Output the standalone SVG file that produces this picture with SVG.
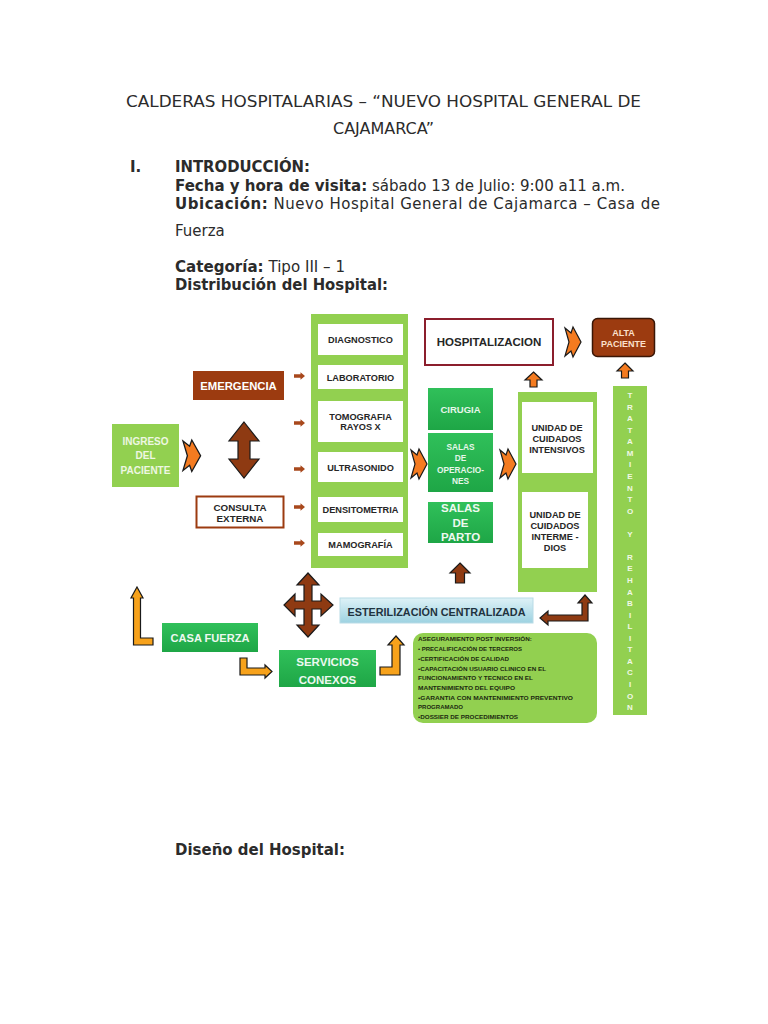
<svg xmlns="http://www.w3.org/2000/svg" width="768" height="1024" viewBox="0 0 768 1024">
<defs>
<linearGradient id="gGreen" x1="0" y1="0" x2="0" y2="1"><stop offset="0" stop-color="#30c05a"/><stop offset="1" stop-color="#1ea646"/></linearGradient>
<linearGradient id="gBlue" x1="0" y1="0" x2="0" y2="1"><stop offset="0" stop-color="#def2f7"/><stop offset="1" stop-color="#9dd2e1"/></linearGradient>
<path id="chev" d="M0,1 L6,6 L8,0 L16,15 L8,30 L6,24 L0,29 L4,15 Z"/>
<path id="sarr" d="M0,-1.7 H6.5 V-3.8 L11,0 L6.5,3.8 V1.7 H0 Z"/>
</defs>
<style>
.doc{font-family:"DejaVu Sans",sans-serif;fill:#2b2b2b;font-size:15px}
.b{font-weight:bold}
.lbl{font-family:"Liberation Sans",Arial,sans-serif;font-weight:bold;text-anchor:middle}
.lg{fill:#92d050}
.mg{fill:url(#gGreen)}
.wbox{fill:#ffffff}
.dk{fill:#262626;font-size:9.2px}
.star{fill:#f47b20;stroke:#1a1a1a;stroke-width:1.2}
.ora{fill:#f7a21b;stroke:#1a1a1a;stroke-width:1.2}
.bra{fill:#8e3a12;stroke:#1a1a1a;stroke-width:1.2}
.sm{fill:#a8481c}
.note{font-family:"Liberation Sans",Arial,sans-serif;font-weight:bold;font-size:5.5px;fill:#1c2a10}
.vt{font-family:"Liberation Sans",Arial,sans-serif;font-weight:bold;font-size:8px;fill:#f0f8e6;text-anchor:middle}
</style>
<rect width="768" height="1024" fill="#ffffff"/>

<g id="header">
<text class="doc" x="126" y="107" style="font-size:16px" textLength="515" lengthAdjust="spacingAndGlyphs">CALDERAS HOSPITALARIAS – “NUEVO HOSPITAL GENERAL DE</text>
<text class="doc" x="383.5" y="134" style="font-size:16px" text-anchor="middle">CAJAMARCA”</text>
<text class="doc b" x="130" y="172">I.</text>
<text class="doc b" x="175" y="172" textLength="135" lengthAdjust="spacingAndGlyphs">INTRODUCCIÓN:</text>
<text class="doc" x="175" y="191" textLength="450" lengthAdjust="spacingAndGlyphs"><tspan class="b">Fecha y hora de visita:</tspan> sábado 13 de Julio: 9:00 a11 a.m.</text>
<text class="doc" x="175" y="209" textLength="485" lengthAdjust="spacing"><tspan class="b">Ubicación:</tspan> Nuevo Hospital General de Cajamarca – Casa de</text>
<text class="doc" x="175" y="236">Fuerza</text>
<text class="doc" x="175" y="272" textLength="170" lengthAdjust="spacingAndGlyphs"><tspan class="b">Categoría:</tspan> Tipo III – 1</text>
<text class="doc b" x="175" y="290" textLength="213" lengthAdjust="spacingAndGlyphs">Distribución del Hospital:</text>
<text class="doc b" x="175" y="855" textLength="170" lengthAdjust="spacingAndGlyphs">Diseño del Hospital:</text>
</g>

<g id="ingreso">
<rect class="lg" x="112" y="424" width="67" height="63"/>
<text class="lbl" x="145.5" y="444.5" font-size="10" fill="#eef7e2">INGRESO</text>
<text class="lbl" x="145.5" y="458.5" font-size="10" fill="#eef7e2">DEL</text>
<text class="lbl" x="145.5" y="473.5" font-size="10" fill="#eef7e2">PACIENTE</text>
</g>
<g id="emergencia">
<rect x="193" y="371" width="91" height="29" fill="#9c3b10"/>
<text class="lbl" x="238.5" y="390" font-size="11.3" fill="#ffffff">EMERGENCIA</text>
</g>
<g id="consulta">
<rect x="196.5" y="496.5" width="87" height="31" fill="#ffffff" stroke="#9c3b10" stroke-width="2"/>
<text class="lbl dk" x="240" y="510.5" style="font-size:9.8px">CONSULTA</text>
<text class="lbl dk" x="240" y="522" style="font-size:9.8px">EXTERNA</text>
</g>

<g id="servicios-apoyo">
<rect class="lg" x="311" y="314" width="97" height="254"/>
<rect class="wbox" x="318" y="324" width="85" height="31"/>
<text class="lbl dk" x="360.5" y="343">DIAGNOSTICO</text>
<rect class="wbox" x="318" y="365" width="85" height="24"/>
<text class="lbl dk" x="360.5" y="380.5">LABORATORIO</text>
<rect class="wbox" x="318" y="401" width="85" height="41"/>
<text class="lbl dk" x="360.5" y="420">TOMOGRAFIA</text>
<text class="lbl dk" x="360.5" y="430">RAYOS X</text>
<rect class="wbox" x="318" y="452" width="85" height="30"/>
<text class="lbl dk" x="360.5" y="470.5">ULTRASONIDO</text>
<rect class="wbox" x="318" y="497" width="85" height="25"/>
<text class="lbl dk" x="360.5" y="513">DENSITOMETRIA</text>
<rect class="wbox" x="318" y="533" width="85" height="23"/>
<text class="lbl dk" x="360.5" y="548">MAMOGRAFÍA</text>
</g>

<g id="hospitalizacion">
<rect x="425" y="319" width="128" height="46" fill="#ffffff" stroke="#8b1e2c" stroke-width="2"/>
<text class="lbl dk" x="489" y="346" style="font-size:11.5px">HOSPITALIZACION</text>
</g>
<g id="alta">
<rect x="592.5" y="318.5" width="62" height="38" rx="5" fill="#9c3b10" stroke="#3a1606" stroke-width="1.5"/>
<text class="lbl" x="623.5" y="335.5" font-size="9" fill="#fbe0cc">ALTA</text>
<text class="lbl" x="623.5" y="347" font-size="9" fill="#fbe0cc">PACIENTE</text>
</g>

<g id="cirugia">
<rect class="mg" x="428" y="388" width="65" height="42"/>
<text class="lbl" x="460.5" y="412.5" font-size="9.5" fill="#e6f6ea">CIRUGIA</text>
</g>
<g id="salas-operaciones">
<rect class="mg" x="428" y="433" width="65" height="59"/>
<text class="lbl" x="460.5" y="449.5" font-size="8.3" fill="#e6f6ea">SALAS</text>
<text class="lbl" x="460.5" y="461" font-size="8.3" fill="#e6f6ea">DE</text>
<text class="lbl" x="460.5" y="472.5" font-size="8.3" fill="#e6f6ea">OPERACIO-</text>
<text class="lbl" x="460.5" y="484" font-size="8.3" fill="#e6f6ea">NES</text>
</g>
<g id="salas-parto">
<rect class="mg" x="428" y="502" width="65" height="41"/>
<text class="lbl" x="460.5" y="512" font-size="11.5" fill="#eef8f0">SALAS</text>
<text class="lbl" x="460.5" y="527" font-size="11.5" fill="#eef8f0">DE</text>
<text class="lbl" x="460.5" y="541" font-size="11.5" fill="#eef8f0">PARTO</text>
</g>

<g id="cuidados">
<rect class="lg" x="518" y="392" width="79" height="200"/>
<rect class="wbox" x="522" y="402" width="71" height="71"/>
<text class="lbl dk" x="557" y="430.5">UNIDAD DE</text>
<text class="lbl dk" x="557" y="441.5">CUIDADOS</text>
<text class="lbl dk" x="557" y="452.5">INTENSIVOS</text>
<rect class="wbox" x="522" y="492" width="66" height="76"/>
<text class="lbl dk" x="555" y="517.5">UNIDAD DE</text>
<text class="lbl dk" x="555" y="528.5">CUIDADOS</text>
<text class="lbl dk" x="555" y="539.5">INTERME -</text>
<text class="lbl dk" x="555" y="550.5">DIOS</text>
</g>

<g id="tratamiento">
<rect class="lg" x="613" y="386" width="34" height="329"/>
<text class="vt" x="630" y="398">T</text>
<text class="vt" x="630" y="409.6">R</text>
<text class="vt" x="630" y="421.1">A</text>
<text class="vt" x="630" y="432.7">T</text>
<text class="vt" x="630" y="444.2">A</text>
<text class="vt" x="630" y="455.8">M</text>
<text class="vt" x="630" y="467.4">I</text>
<text class="vt" x="630" y="478.9">E</text>
<text class="vt" x="630" y="490.5">N</text>
<text class="vt" x="630" y="502">T</text>
<text class="vt" x="630" y="513.6">O</text>
<text class="vt" x="630" y="536.7">Y</text>
<text class="vt" x="630" y="559.8">R</text>
<text class="vt" x="630" y="571.4">E</text>
<text class="vt" x="630" y="582.9">H</text>
<text class="vt" x="630" y="594.5">A</text>
<text class="vt" x="630" y="606">B</text>
<text class="vt" x="630" y="617.6">I</text>
<text class="vt" x="630" y="629.2">L</text>
<text class="vt" x="630" y="640.7">I</text>
<text class="vt" x="630" y="652.3">T</text>
<text class="vt" x="630" y="663.8">A</text>
<text class="vt" x="630" y="675.4">C</text>
<text class="vt" x="630" y="687">I</text>
<text class="vt" x="630" y="698.5">O</text>
<text class="vt" x="630" y="710">N</text>
</g>

<g id="esterilizacion">
<rect x="340" y="598" width="193" height="25" fill="url(#gBlue)" stroke="#b8dbe6" stroke-width="1"/>
<text class="lbl" x="436.5" y="616" font-size="10" fill="#1f3340" textLength="178" lengthAdjust="spacingAndGlyphs">ESTERILIZACIÓN CENTRALIZADA</text>
</g>

<g id="casa-fuerza">
<rect class="mg" x="162" y="623" width="96" height="29"/>
<text class="lbl" x="210" y="641.5" font-size="11" fill="#eef8f0" textLength="79" lengthAdjust="spacingAndGlyphs">CASA FUERZA</text>
</g>
<g id="servicios-conexos">
<rect class="mg" x="279" y="650" width="97" height="37"/>
<text class="lbl" x="327.5" y="665.5" font-size="11.5" fill="#eef8f0">SERVICIOS</text>
<text class="lbl" x="327.5" y="683.5" font-size="11.5" fill="#eef8f0">CONEXOS</text>
</g>

<g id="aseguramiento">
<rect class="lg" x="413" y="633" width="184" height="90" rx="10"/>
<text class="note" x="418" y="641.3" textLength="114" lengthAdjust="spacingAndGlyphs">ASEGURAMIENTO POST INVERSIÓN:</text>
<text class="note" x="418" y="651.3" textLength="104" lengthAdjust="spacingAndGlyphs">• PRECALIFICACIÓN DE TERCEROS</text>
<text class="note" x="418" y="660.7" textLength="91" lengthAdjust="spacingAndGlyphs">•CERTIFICACIÓN DE CALIDAD</text>
<text class="note" x="418" y="670.7" textLength="128" lengthAdjust="spacingAndGlyphs">•CAPACITACIÓN USUARIO CLINICO EN EL</text>
<text class="note" x="418" y="680.3" textLength="115" lengthAdjust="spacingAndGlyphs">FUNCIONAMIENTO Y TECNICO EN EL</text>
<text class="note" x="418" y="690" textLength="97" lengthAdjust="spacingAndGlyphs">MANTENIMIENTO DEL EQUIPO</text>
<text class="note" x="418" y="699.7" textLength="155" lengthAdjust="spacingAndGlyphs">•GARANTIA CON MANTENIMIENTO PREVENTIVO</text>
<text class="note" x="418" y="709.3" textLength="45" lengthAdjust="spacingAndGlyphs">PROGRAMADO</text>
<text class="note" x="418" y="719" textLength="100" lengthAdjust="spacingAndGlyphs">•DOSSIER DE PROCEDIMIENTOS</text>
</g>

<g id="connectors">
<use href="#chev" class="star" transform="translate(183,440) scale(1.1,1.05)"/>
<use href="#chev" class="star" transform="translate(565,327)"/>
<use href="#chev" class="star" transform="translate(411,449)"/>
<use href="#chev" class="star" transform="translate(500,449)"/>
<use href="#sarr" class="sm" x="294" y="376"/>
<use href="#sarr" class="sm" x="294" y="423"/>
<use href="#sarr" class="sm" x="294" y="469"/>
<use href="#sarr" class="sm" x="294" y="507"/>
<use href="#sarr" class="sm" x="294" y="543"/>
<path class="bra" d="M244,422 L259,441 L250,441 L250,459 L259,459 L244,478 L229,459 L238,459 L238,441 L229,441 Z"/>
<path class="bra" d="M308,573 L319,585 L312,585 L312,601 L321,601 L321,594 L333,605 L321,616 L321,609 L312,609 L312,625 L319,625 L308,637 L297,625 L304,625 L304,609 L295,609 L295,616 L284,605 L295,594 L295,601 L304,601 L304,585 L297,585 Z"/>
<path class="star" d="M533.5,372 L542,380 L537,380 L537,387 L530,387 L530,380 L525,380 Z"/>
<path class="star" d="M625,363 L633,371 L628.5,371 L628.5,378 L621.5,378 L621.5,371 L617,371 Z"/>
<path class="bra" d="M460,563 L470,573 L464.5,573 L464.5,583 L455.5,583 L455.5,573 L450,573 Z"/>
<path class="bra" d="M585,595 L592,603 L588,603 L588,621 L548,621 L548,625 L540,618 L548,611 L548,615 L582,615 L582,603 L578,603 Z"/>
<path class="ora" d="M137,587 L143,598 L140.5,598 L140.5,638 L153,638 L153,645 L133.5,645 L133.5,598 L131,598 Z"/>
<path class="ora" d="M240,658 L247,658 L247,668 L265,668 L265,665 L272,671.5 L265,678 L265,675 L240,675 Z"/>
<path class="ora" d="M380,667 L392,667 L392,645 L388,645 L396,636 L404,645 L400,645 L400,675 L380,675 Z"/>
</g>
</svg>
